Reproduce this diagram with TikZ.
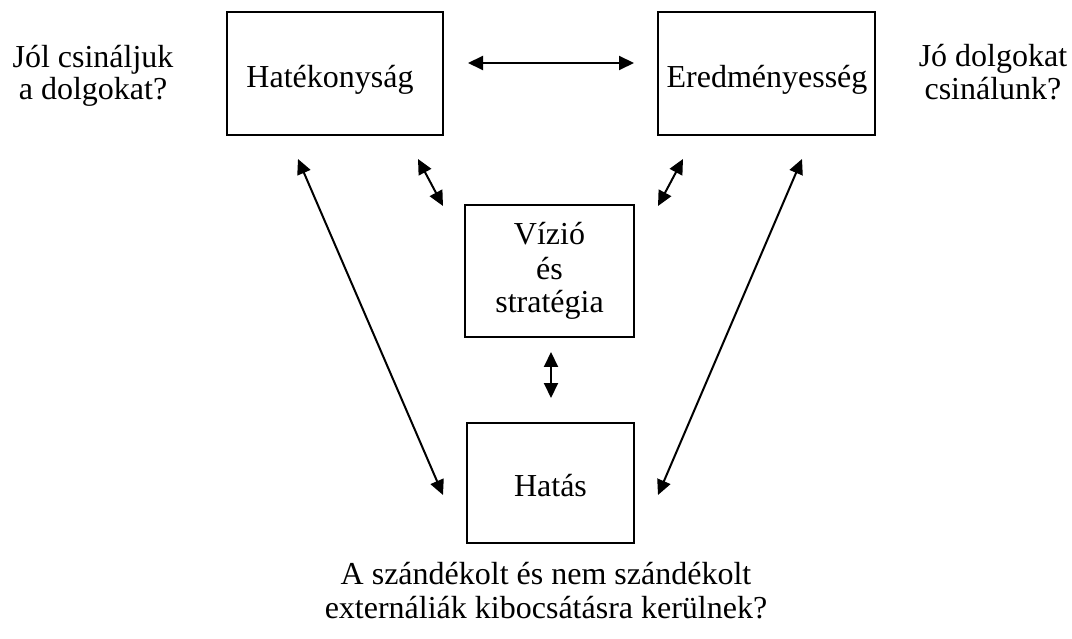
\documentclass[tikz,border=0pt]{standalone}
\usepackage{fontspec}
\setmainfont{Liberation Serif}
\usetikzlibrary{arrows.meta}
\begin{document}
\begin{tikzpicture}[x=1pt,y=-1pt,
  frame/.style={draw,line width=2pt,rectangle,inner sep=0pt},
  txt/.style={anchor=base,inner sep=0pt,font=\fontsize{32}{34}\selectfont},
  link/.style={line width=2pt,{Triangle[length=15pt,width=14pt]}-{Triangle[length=15pt,width=14pt]}}]
  \useasboundingbox (0,0) rectangle (1072,639);
  % boxes
  \node[frame,minimum width=216pt,minimum height=123pt] (hat) at (335,73.5) {};
  \node[frame,minimum width=217pt,minimum height=123pt] (ered) at (766.5,73.5) {};
  \node[frame,minimum width=169pt,minimum height=132pt] (viz) at (549.5,271) {};
  \node[frame,minimum width=167pt,minimum height=120pt] (hatas) at (550.5,483) {};
  % box texts
  \node[txt] (that) at (330,88) {Hatékonyság};
  \node[txt] (tered) at (767,88) {Eredményesség};
  \node[txt] (tviz1) at (549.5,245) {Vízió};
  \node[txt] (tviz2) at (549.5,280) {és};
  \node[txt] (tviz3) at (549.5,313) {stratégia};
  \node[txt] (thatas) at (550.5,496) {Hatás};
  % side questions
  \node[txt] (q1a) at (93,68) {Jól csináljuk};
  \node[txt] (q1b) at (93,100) {a dolgokat?};
  \node[txt] (q2a) at (993,67) {Jó dolgokat};
  \node[txt] (q2b) at (993,100) {csinálunk?};
  \node[txt] (q3a) at (546,584) {A szándékolt és nem szándékolt};
  \node[txt] (q3b) at (546,618) {externáliák kibocsátásra kerülnek?};
  % arrow end points
  \coordinate (h1) at (468,63);
  \coordinate (h2) at (634,63);
  \coordinate (dl1) at (418,159);
  \coordinate (dl2) at (443,206);
  \coordinate (dr1) at (683,159);
  \coordinate (dr2) at (658,206);
  \coordinate (v1) at (551,352);
  \coordinate (v2) at (551,398);
  \coordinate (ll1) at (298,159);
  \coordinate (ll2) at (443,495);
  \coordinate (lr1) at (802,159);
  \coordinate (lr2) at (658,495);
  % arrows
  \draw[link] (h1) -- (h2);
  \draw[link] (dl1) -- (dl2);
  \draw[link] (dr1) -- (dr2);
  \draw[link] (v1) -- (v2);
  \draw[link] (ll1) -- (ll2);
  \draw[link] (lr1) -- (lr2);
\end{tikzpicture}
\end{document}
